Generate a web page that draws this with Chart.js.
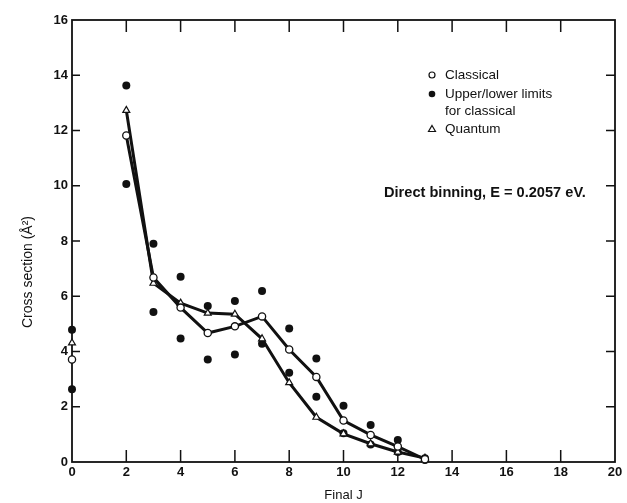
<!DOCTYPE html>
<html>
<head>
<meta charset="utf-8">
<script src="https://cdn.jsdelivr.net/npm/chart.js@4"></script>
<style>
  html, body { margin: 0; padding: 0; background: #fff; }
  #wrap { width: 627px; height: 503px; }
</style>
</head>
<body>
<div id="wrap"><canvas id="c" width="627" height="503"></canvas></div>
<script>
// ---- data ----
const finalJ      = [0, 1, 2, 3, 4, 5, 6, 7, 8, 9, 10, 11, 12, 13];
const classical   = [3.71, null, 11.82, 6.68, 5.59, 4.67, 4.91, 5.27, 4.07, 3.08, 1.50, 0.98, 0.56, 0.10];
const quantum     = [4.31, null, 12.73, 6.47, 5.75, 5.39, 5.35, 4.46, 2.87, 1.62, 1.02, 0.66, 0.36, 0.14];
const upperLimit  = [4.79, null, 13.63, 7.90, 6.71, 5.65, 5.83, 6.19, 4.83, 3.75, 2.04, 1.34, 0.80, 0.14];
const lowerLimit  = [2.63, null, 10.06, 5.43, 4.47, 3.71, 3.89, 4.28, 3.23, 2.36, 1.04, 0.63, 0.36, 0.07];
const xTicks = [0, 2, 4, 6, 8, 10, 12, 14, 16, 18, 20];
const yTicks = [0, 2, 4, 6, 8, 10, 12, 14, 16];

const legendLabels = ['Classical', 'Upper/lower limits', 'for classical', 'Quantum'];
const annotation = 'Direct binning, E = 0.2057 eV.';
const xTitle = 'Final J';
const yTitle = 'Cross section (Å²)';

const INK = '#111';
const FONT = "'Liberation Sans', Arial, Helvetica, sans-serif";

function pts(arr) { return finalJ.map((j, i) => ({ x: j, y: arr[i] })); }

// frame, inside ticks, legend, annotation, y title
const decor = {
  id: 'decor',
  beforeDatasetsDraw(chart) {
    const { ctx, chartArea: a, scales: { x, y } } = chart;
    ctx.save();
    ctx.strokeStyle = INK;
    ctx.lineWidth = 1.8;
    ctx.strokeRect(a.left, a.top, a.right - a.left, a.bottom - a.top);
    ctx.lineWidth = 1.5;
    ctx.beginPath();
    xTicks.forEach(v => {
      const px = x.getPixelForValue(v);
      if (v > 0 && v < 20) {
        ctx.moveTo(px, a.bottom); ctx.lineTo(px, a.bottom - 12);
        ctx.moveTo(px, a.top); ctx.lineTo(px, a.top + 12);
      }
    });
    yTicks.forEach(v => {
      const py = y.getPixelForValue(v);
      if (v > 0 && v < 16) {
        ctx.moveTo(a.left, py); ctx.lineTo(a.left + 8, py);
        ctx.moveTo(a.right, py); ctx.lineTo(a.right - 9, py);
      }
    });
    ctx.stroke();
    ctx.restore();
  },
  afterDraw(chart) {
    const { ctx } = chart;
    ctx.save();
    ctx.strokeStyle = INK;
    // legend
    const mx = 432, tx = 445;
    ctx.fillStyle = INK;
    ctx.font = '13.5px ' + FONT;
    ctx.textBaseline = 'middle';
    ctx.textAlign = 'left';
    ctx.fillText(legendLabels[0], tx, 75);
    ctx.fillText(legendLabels[1], tx, 94);
    ctx.fillText(legendLabels[2], tx, 111);
    ctx.fillText(legendLabels[3], tx, 129);
    ctx.lineWidth = 1.2;
    // open circle
    ctx.beginPath(); ctx.arc(mx, 75, 3, 0, Math.PI * 2);
    ctx.fillStyle = '#fff'; ctx.fill(); ctx.stroke();
    // filled circle
    ctx.beginPath(); ctx.arc(mx, 94, 3.3, 0, Math.PI * 2);
    ctx.fillStyle = INK; ctx.fill();
    // triangle
    ctx.beginPath();
    ctx.moveTo(mx, 125.5); ctx.lineTo(mx + 3.5, 131.5); ctx.lineTo(mx - 3.5, 131.5); ctx.closePath();
    ctx.fillStyle = '#fff'; ctx.fill(); ctx.stroke();

    // annotation
    ctx.fillStyle = INK;
    ctx.font = 'bold 14.6px ' + FONT;
    ctx.fillText(annotation, 384, 193);

    // y title
    ctx.save();
    ctx.translate(28, 272);
    ctx.rotate(-Math.PI / 2);
    ctx.textAlign = 'center';
    ctx.font = '14px ' + FONT;
    ctx.fillText(yTitle, 0, 0);
    ctx.restore();

    ctx.restore();
  }
};

new Chart(document.getElementById('c'), {
  type: 'scatter',
  data: {
    datasets: [
      {
        label: 'Classical',
        data: pts(classical),
        showLine: true, spanGaps: false, clip: false,
        borderColor: INK, borderWidth: 3,
        pointStyle: 'circle', pointRadius: 3.6, pointBorderWidth: 1.3,
        pointBackgroundColor: '#fff', pointBorderColor: INK,
        order: 1
      },
      {
        label: 'Quantum',
        data: pts(quantum),
        showLine: true, spanGaps: false, clip: false,
        borderColor: INK, borderWidth: 3,
        pointStyle: 'triangle', pointRadius: 4, pointBorderWidth: 1.2,
        pointBackgroundColor: '#fff', pointBorderColor: INK,
        order: 2
      },
      {
        label: 'Upper limit',
        data: pts(upperLimit),
        showLine: false, clip: false,
        pointStyle: 'circle', pointRadius: 4, pointBorderWidth: 0,
        pointBackgroundColor: INK, pointBorderColor: INK,
        order: 3
      },
      {
        label: 'Lower limit',
        data: pts(lowerLimit),
        showLine: false, clip: false,
        pointStyle: 'circle', pointRadius: 4, pointBorderWidth: 0,
        pointBackgroundColor: INK, pointBorderColor: INK,
        order: 3
      }
    ]
  },
  options: {
    responsive: false,
    animation: false,
    layout: { padding: { left: 0, top: 20, right: 12, bottom: 0 } },
    plugins: { legend: { display: false }, tooltip: { enabled: false } },
    scales: {
      x: {
        type: 'linear', min: 0, max: 20,
        afterBuildTicks: s => { s.ticks = xTicks.map(v => ({ value: v })); },
        afterFit: s => { s.height = 41; },
        grid: { display: false, drawTicks: false },
        border: { display: false },
        ticks: { color: INK, padding: 3, font: { family: FONT, size: 13, weight: 'bold' }, maxRotation: 0 },
        title: { display: true, text: xTitle, color: INK, font: { family: FONT, size: 13 }, padding: { top: 0, bottom: 0 } }
      },
      y: {
        type: 'linear', min: 0, max: 16,
        afterBuildTicks: s => { s.ticks = yTicks.map(v => ({ value: v })); },
        afterFit: s => { s.width = 72; },
        grid: { display: false, drawTicks: false },
        border: { display: false },
        ticks: { color: INK, padding: 4, font: { family: FONT, size: 13, weight: 'bold' } }
      }
    }
  },
  plugins: [decor]
});
</script>
</body>
</html>
